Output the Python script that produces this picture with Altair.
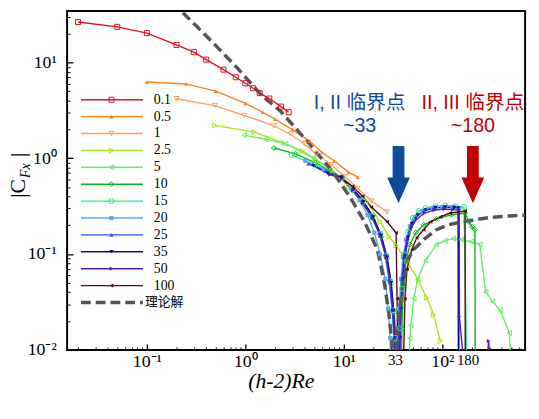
import altair as alt
import pandas as pd

OFF = 0.004  # below the axis floor (value drops to ~0)

series_names = ['0.1', '0.5', '1', '2.5', '5', '10', '15', '20', '25', '35', '50', '100']
series_colors = ['#e0141e', '#ff7f1e', '#ffa060', '#a8e61e', '#66ee66', '#10b41e',
                 '#1eee82', '#5aaaf0', '#2850ff', '#0a0aa0', '#6414b4', '#5a0a0a']
series_shapes = ['square', 'triangle-up', 'triangle-down', 'triangle-right', 'triangle-left',
                 'diamond', 'circle', 'square', 'triangle-up', 'triangle-down',
                 'triangle-right', 'triangle-left']
series_filled = [False, True, False, False, False, False, False, True, True, True, True, True]

x_01 = [0.02, 0.05, 0.1, 0.2, 0.3, 0.4, 0.6, 0.8, 1.0, 1.2, 1.4, 1.75, 2.3, 2.75]
y_01 = [26.4, 23.5, 20.2, 15.2, 12.8, 10.7, 8.4, 7.0, 6.06, 5.38, 4.78, 4.2, 3.46, 3.02]

x_05 = [0.1, 0.25, 0.5, 1.0, 1.5, 2.0, 3.0, 4.5, 6.0, 8.0, 11.2, 13.9]
y_05 = [6.24, 5.96, 5.01, 3.74, 3.02, 2.56, 1.99, 1.51, 1.146, 0.94, 0.713, 0.634]

x_1 = [0.2, 0.49, 0.98, 1.95, 2.88, 3.98, 5.25, 7.41, 10.2, 13.8, 19.1, 27.5]
y_1 = [4.18, 3.54, 2.79, 2.18, 1.78, 1.41, 1.11, 0.855, 0.644, 0.485, 0.357, 0.275]

x_25 = [0.49, 1.23, 2.45, 3.8, 5.13, 7.59, 11.2, 17.0, 23.4, 28.8, 33.9, 43.7, 57.5, 69.2, 81.3, 95.5]
y_25 = [2.20, 1.87, 1.44, 1.19, 0.986, 0.743, 0.508, 0.352, 0.217, 0.152, 0.123, 0.0841,
        0.0524, 0.0351, 0.0234, 0.01237]

x_5 = [0.977, 1.62, 2.57, 4.90, 9.55, 12.3, 15.5, 19.05, 22.9, 26.3, 28.8, 30.9, 32.4, 33.1,
       45.7, 46.8, 47.9, 51.3, 56.2, 67.6, 87.1, 107, 129, 155, 195, 240, 275, 324, 389, 479, 513]
y_5 = [1.74, 1.58, 1.41, 1.01, 0.629, 0.473, 0.357, 0.250, 0.163, 0.097, 0.0524, 0.0258, 0.0133, OFF,
       OFF, 0.0133, 0.0181, 0.0342, 0.055, 0.0861, 0.1258, 0.1383, 0.1449, 0.1416, 0.135, 0.1258,
       0.0404, 0.0319, 0.0258, 0.01495, OFF]

x_10 = [1.95, 3.24, 5.13, 9.55, 12.3, 15.5, 19.5, 24.0, 27.5, 30.2, 32.4, 33.9, 34.7, 38.0, 38.9,
        39.8, 42.7, 46.8, 53.7, 64.6, 87.1, 123, 170, 186, 200, 214, 216]
y_10 = [1.28, 1.11, 0.897, 0.629, 0.462, 0.340, 0.238, 0.152, 0.0904, 0.0489, 0.0246, 0.01267, OFF,
        OFF, 0.0168, 0.0342, 0.0841, 0.1258, 0.167, 0.2018, 0.233, 0.256, 0.268, 0.2168, 0.193,
        0.1795, OFF]

x_15 = [2.95, 5.13, 9.55, 12.3, 15.5, 19.5, 23.4, 26.9, 29.5, 31.6, 33.1, 33.9, 36.3, 37.2, 38.9,
        40.7, 44.7, 50.1, 57.5, 67.6, 85.1, 107, 135, 166, 178]
y_15 = [1.08, 0.855, 0.629, 0.473, 0.357, 0.250, 0.163, 0.097, 0.0524, 0.0258, 0.0133, OFF, OFF,
        0.0168, 0.0434, 0.0993, 0.171, 0.238, 0.281, 0.302, 0.316, 0.320, 0.316, 0.309, OFF]

x_20 = [4.07, 6.17, 9.55, 11.75, 14.45, 17.4, 20.4, 23.4, 26.3, 28.2, 29.5, 30.2, 34.7, 35.5, 36.3,
        38.0, 39.8, 42.7, 46.8, 52.5, 63.1, 79.4, 100, 126, 148, 149]
y_20 = [0.94, 0.76, 0.629, 0.485, 0.365, 0.256, 0.167, 0.0993, 0.055, 0.027, 0.0133, OFF, OFF,
        0.0133, 0.027, 0.055, 0.0925, 0.1416, 0.197, 0.244, 0.281, 0.302, 0.309, 0.309, 0.302, OFF]

x_250 = [4.37, 6.46, 9.55, 12.3, 15.5, 19.05, 22.9, 26.3, 28.8, 30.9, 32.4, 33.1, 35.5, 36.3, 37.2,
         38.9, 40.7, 43.7, 47.9, 53.7, 64.6, 81.3, 102, 129, 145, 146]
y_250 = [0.875, 0.741, 0.629, 0.485, 0.365, 0.256, 0.167, 0.0993, 0.055, 0.027, 0.0133, OFF, OFF,
         0.0133, 0.027, 0.055, 0.0925, 0.1416, 0.197, 0.244, 0.281, 0.302, 0.309, 0.305, 0.2985, OFF]

x_35 = [4.90, 6.92, 9.55, 12.6, 15.8, 19.95, 24.0, 27.5, 30.2, 32.0, 33.1, 33.9, 36.3, 37.2, 38.0,
        39.8, 41.7, 44.7, 49.0, 56.2, 67.6, 85.1, 107, 132, 145, 146]
y_35 = [0.835, 0.691, 0.629, 0.473, 0.352, 0.244, 0.1556, 0.0925, 0.050, 0.0258, 0.0133, OFF, OFF,
        0.0133, 0.027, 0.055, 0.0946, 0.1486, 0.2065, 0.256, 0.288, 0.305, 0.309, 0.305, 0.302, OFF]

x_50 = [7.24, 9.55, 12.3, 15.5, 19.5, 23.4, 26.9, 29.5, 31.6, 33.1, 33.9, 36.3, 37.2, 38.0, 39.8,
        41.7, 44.7, 49.0, 55.0, 66.1, 83.2, 105, 129, 148, 149, 174, 269, 295, 316]
y_50 = [0.675, 0.614, 0.462, 0.340, 0.238, 0.1556, 0.0925, 0.0512, 0.0258, 0.0133, OFF, OFF, 0.0133,
        0.027, 0.055, 0.0925, 0.1416, 0.193, 0.233, 0.268, 0.288, 0.295, 0.291, 0.288, 0.0223, OFF,
        OFF, 0.01237, OFF]

x_100 = [9.12, 12.3, 15.5, 19.05, 27.5, 33.9, 34.7, 35.5, 39.8, 41.7, 43.7, 49.0, 55.0, 64.6, 75.9,
         95.5, 120, 145, 170, 171]
y_100 = [0.644, 0.508, 0.401, 0.309, 0.217, 0.167, 0.0342, OFF, OFF, 0.0342, 0.0696, 0.1117, 0.1486,
         0.1795, 0.217, 0.244, 0.268, 0.275, 0.281, OFF]

theory_x = [0.182, 0.204, 0.324, 0.513, 0.813, 1.445, 2.29, 4.07, 7.59, 11.75, 16.2, 21.9, 25.7,
            28.8, 30.9, 32.0, 33.5, 34.3, 36.3, 39.8, 44.7, 51.3, 64.6, 87.1, 115, 162, 302, 479, 724]
theory_y = [42.4, 37.7, 23.5, 14.6, 8.91, 4.59, 3.07, 1.58, 0.741, 0.383, 0.2168, 0.1117, 0.0512,
            0.0229, 0.01126, OFF, OFF, 0.01126, 0.0240, 0.0489, 0.0882, 0.1117, 0.1416, 0.1795,
            0.2018, 0.218, 0.241, 0.250, 0.256]

x_ticks_major = [0.1, 1, 10, 100, 33, 180]
y_ticks_major = [0.01, 0.1, 1, 10]
x_ticks_minor = [m * d for d in [0.01, 0.1, 1, 10, 100] for m in range(2, 10) if 0.0155 < m * d < 690]
y_ticks_minor = [m * d for d in [0.01, 0.1, 1, 10] for m in range(2, 10) if m * d < 34]

annot_blue = ['I, II 临界点', '~33']
annot_red = ['II, III 临界点', '~180']
crit_blue, crit_red = 35.9, 204  # arrow x positions (data units)

all_x = [x_01, x_05, x_1, x_25, x_5, x_10, x_15, x_20, x_250, x_35, x_50, x_100]
all_y = [y_01, y_05, y_1, y_25, y_5, y_10, y_15, y_20, y_250, y_35, y_50, y_100]

rows = []
for name, xs_, ys_, filled in zip(series_names, all_x, all_y, series_filled):
    for i, (a, b) in enumerate(zip(xs_, ys_)):
        rows.append({'s': name, 'x': a, 'y': b, 'i': i, 'filled': filled})
df = pd.DataFrame(rows)
theory_df = pd.DataFrame({'x': theory_x, 'y': theory_y, 'i': range(len(theory_x))})

# ---- scales ----
xs = alt.Scale(type='log', domain=[0.01549, 691.8], nice=False)
ys = alt.Scale(type='log', domain=[0.01, 34.3], nice=False)
color = alt.Color('s:N', scale=alt.Scale(domain=series_names, range=series_colors), legend=None)
shape = alt.Shape('s:N', scale=alt.Scale(domain=series_names, range=series_shapes), legend=None)

SERIF = 'Liberation Serif'
is_extra = 'datum.value > 30 && datum.value < 40 || datum.value > 170 && datum.value < 190'
x_major = alt.Axis(
    orient='bottom', values=x_ticks_major, domain=False, grid=False, offset=-6, tickSize=6,
    tickWidth=1.3, tickColor='black',
    tickOpacity={'condition': {'test': is_extra, 'value': 0}, 'value': 1},
    labelExpr=("datum.value < 0.5 ? '10⁻¹' : datum.value < 5 ? '10⁰' : datum.value < 20 ? '10¹' : "
               "datum.value < 40 ? '33' : datum.value < 150 ? '10²' : '180'"),
    labelFont=SERIF, labelColor='black', labelPadding=3, labelOverlap=False, labelFlush=False,
    labelFontSize={'condition': {'test': is_extra, 'value': 15}, 'value': 18},
    title='(h-2)Re', titleFont=SERIF, titleFontStyle='italic', titleFontWeight='normal',
    titleFontSize=22, titleColor='black', titleX=217, titleY=37, titleBaseline='middle',
    titleAlign='center')
y_major = alt.Axis(
    orient='left', values=y_ticks_major, domain=False, grid=False, offset=-6, tickSize=6,
    tickWidth=1.3, tickColor='black',
    labelExpr="datum.value < 0.05 ? '10⁻²' : datum.value < 0.5 ? '10⁻¹' : datum.value < 5 ? '10⁰' : '10¹'",
    labelFont=SERIF, labelColor='black', labelPadding=11, labelFontSize=18, labelOverlap=False,
    labelFlush=False, title=None)
x_minor = alt.Axis(orient='bottom', values=x_ticks_minor, labels=False, domain=False, grid=False,
                   offset=-3, tickSize=3, tickWidth=1, tickColor='black', title=None)
y_minor = alt.Axis(orient='left', values=y_ticks_minor, labels=False, domain=False, grid=False,
                   offset=-3, tickSize=3, tickWidth=1, tickColor='black', title=None)


def X(axis=None):
    return alt.X('x:Q', scale=xs, axis=axis)


def Y(axis=None):
    return alt.Y('y:Q', scale=ys, axis=axis)


lines = alt.Chart(df).mark_line(strokeWidth=1.4, clip=True).encode(
    x=X(x_major), y=Y(y_major), color=color, detail='s:N', order=alt.Order('i:Q'))

theory = alt.Chart(theory_df).mark_line(strokeWidth=3.5, strokeDash=[10, 5], color='#555555',
                                        clip=True).encode(
    x=X(x_minor), y=Y(y_minor), order=alt.Order('i:Q'))

pts_open = alt.Chart(df).transform_filter('!datum.filled').mark_point(
    filled=False, size=26, strokeWidth=1, opacity=1, clip=True).encode(
    x=X(), y=Y(), color=color, shape=shape)
pts_fill = alt.Chart(df).transform_filter('datum.filled').mark_point(
    filled=True, size=18, opacity=1, clip=True).encode(
    x=X(), y=Y(), color=color, shape=shape)

# ---- legend (placed in data space, rows geometrically spaced on the log axis) ----
LEG_Y0, LEG_STEP = 4.08, 0.6663
LEG_X0, LEG_X1, LEG_XM, LEG_XT = 0.0214, 0.0912, 0.0437, 0.1175
leg_y = [LEG_Y0 * LEG_STEP ** k for k in range(len(series_names) + 1)]
leg_lines_df = pd.DataFrame([{'s': s, 'x': xv, 'y': leg_y[k]}
                             for k, s in enumerate(series_names) for xv in (LEG_X0, LEG_X1)])
leg_pts_df = pd.DataFrame([{'s': s, 'x': LEG_XM, 'y': leg_y[k], 'filled': series_filled[k],
                            'x_t': LEG_XT} for k, s in enumerate(series_names)])
leg_lines = alt.Chart(leg_lines_df).mark_line(strokeWidth=1.4).encode(
    x=X(), y=Y(), color=color, detail='s:N')
leg_open = alt.Chart(leg_pts_df).transform_filter('!datum.filled').mark_point(
    filled=False, size=26, strokeWidth=1, opacity=1).encode(x=X(), y=Y(), color=color, shape=shape)
leg_fill = alt.Chart(leg_pts_df).transform_filter('datum.filled').mark_point(
    filled=True, size=18, opacity=1).encode(x=X(), y=Y(), color=color, shape=shape)
leg_text = alt.Chart(leg_pts_df).mark_text(
    align='left', baseline='middle', font=SERIF, fontSize=14, color='black').encode(
    x=alt.X('x_t:Q', scale=xs, axis=None), y=Y(), text='s:N')
leg_th_df = pd.DataFrame({'x': [LEG_X0, LEG_X1], 'y': [leg_y[-1]] * 2})
leg_th = alt.Chart(leg_th_df).mark_line(strokeWidth=3.5, strokeDash=[10, 5], color='#555555').encode(
    x=X(), y=Y())
leg_th_text = alt.Chart(pd.DataFrame({'x': [0.0955], 'y': [leg_y[-1]], 't': ['理论解']})).mark_text(
    align='left', baseline='middle', font='Noto Sans CJK SC', fontSize=13, color='black').encode(
    x=X(), y=Y(), text='t:N')

# ---- annotations ----
SANS = 'Liberation Sans, Noto Sans CJK SC'
ann_b = alt.Chart(pd.DataFrame({'x': [14.45, 14.45], 'y': [3.80, 2.15], 't': annot_blue})).mark_text(
    font=SANS, fontSize=20, color='#0d4c9c', baseline='middle').encode(x=X(), y=Y(), text='t:N')
ann_r = alt.Chart(pd.DataFrame({'x': [204, 204], 'y': [3.80, 2.15], 't': annot_red})).mark_text(
    font=SANS, fontSize=20, color='#c00000', baseline='middle').encode(x=X(), y=Y(), text='t:N')

HEAD = 'M-1,-1.13L1,-1.13L0,1.13Z'
arrow_layers = []
for xv, col in [(crit_blue, '#0d4c9c'), (crit_red, '#c00000')]:
    shaft = alt.Chart(pd.DataFrame({'x': [xv], 'y': [1.34], 'y2': [0.60]})).mark_rule(
        strokeWidth=12, color=col, strokeCap='butt').encode(x=X(), y=Y(), y2='y2:Q')
    head = alt.Chart(pd.DataFrame({'x': [xv], 'y': [0.462]})).mark_point(
        shape=HEAD, filled=True, size=529, color=col, opacity=1).encode(x=X(), y=Y())
    arrow_layers += [shaft, head]

# ---- y title |C_Fx| ----
ytitle = []
for t, px, py, fs, style in [('|C', -50, 180, 22, 'normal'), ('Fx', -42, 162, 14, 'italic'),
                             ('|', -50, 146, 22, 'normal')]:
    ytitle.append(alt.Chart(pd.DataFrame({'t': [t]})).mark_text(
        angle=270, align='center', baseline='middle', font=SERIF, fontSize=fs, fontStyle=style,
        color='black').encode(x=alt.value(px), y=alt.value(py), text='t:N'))

chart = alt.layer(
    lines, theory, pts_open, pts_fill,
    leg_lines, leg_open, leg_fill, leg_text, leg_th, leg_th_text,
    ann_b, ann_r, *arrow_layers, *ytitle
).resolve_axis(x='independent', y='independent').properties(
    width=465, height=344,
    autosize=alt.AutoSizeParams(type='none'),
    padding={'left': 60, 'top': 0, 'right': 6, 'bottom': 67},
    background='white'
).configure_view(stroke='black', strokeWidth=2)

chart.save('out.html', embed_options={'renderer': 'svg', 'actions': False})
